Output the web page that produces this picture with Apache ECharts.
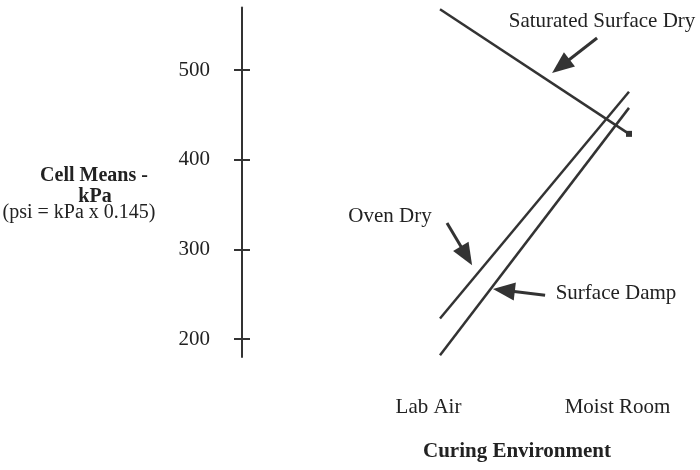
<!DOCTYPE html>
<html>
<head>
<meta charset="utf-8">
<script src="https://cdn.jsdelivr.net/npm/echarts@6/dist/echarts.min.js"></script>
<style>
  html, body { margin: 0; padding: 0; background: #fff; }
  #chart { width: 700px; height: 470px; }
</style>
</head>
<body>
<div id="chart"></div>
<script>
// curing environments (x = 0, 1)
var categories = ['Lab Air', 'Moist Room']
// cell means, kPa
var saturatedSurfaceDry = [568, 429]
var ovenDry = [223, 476]
var surfaceDamp = [182, 458]
var yTicks = [200, 300, 400, 500]
// annotation arrows: [tailX, tailY, headX, headY] in data units
var arrows = [
  [0.831, 536, 0.639, 504.5],
  [0.037, 329.5, 0.140, 293],
  [0.556, 249, 0.338, 254.5]
]

var font = 'Liberation Serif'
var ink = '#333'

function pairs(vals) {
  return vals.map(function (v, i) { return [i, v] })
}

var chart = echarts.init(document.getElementById('chart'))

var lineStyle = { color: ink, width: 2.5 }
var arrowData = arrows.map(function (a) {
  return [
    { coord: [a[0], a[1]], symbol: 'none' },
    { coord: [a[2], a[3]], symbol: 'triangle', symbolSize: [18, 22] }
  ]
})

chart.setOption({
  animation: false,
  grid: { left: 440, right: 71, top: 7.5, bottom: 113 },
  xAxis: {
    type: 'value',
    min: 0,
    max: 1,
    axisLine: { show: false },
    axisTick: { show: false },
    splitLine: { show: false },
    axisLabel: {
      customValues: [0, 1],
      formatter: function (v) { return categories[v] },
      fontFamily: font,
      fontSize: 21,
      color: '#222',
      margin: 40,
      padding: [0, 23, 0, 0]
    }
  },
  yAxis: [{
    type: 'value',
    min: 180,
    max: 570,
    offset: 198,
    position: 'left',
    splitLine: { show: false },
    axisLine: { show: true, onZero: false, lineStyle: { color: ink, width: 2 } },
    axisTick: { show: true, customValues: yTicks, length: 8, lineStyle: { color: ink, width: 2 } },
    axisLabel: { customValues: yTicks, fontFamily: font, fontSize: 21, color: '#222', margin: 32 }
  }, {
    type: 'value',
    min: 180,
    max: 570,
    offset: 198,
    position: 'left',
    splitLine: { show: false },
    axisLine: { show: false, onZero: false },
    axisTick: { show: true, inside: true, customValues: yTicks, length: 8, lineStyle: { color: ink, width: 2 } },
    axisLabel: { show: false }
  }],
  series: [{
    name: 'Saturated Surface Dry',
    type: 'line',
    data: pairs(saturatedSurfaceDry),
    symbol: 'rect',
    symbolSize: function (v, p) { return p.dataIndex === 1 ? 6 : 0 },
    itemStyle: { color: ink },
    lineStyle: lineStyle,
    markLine: {
      silent: true,
      label: { show: false },
      lineStyle: { color: ink, width: 3, type: 'solid' },
      itemStyle: { color: ink },
      data: arrowData
    }
  }, {
    name: 'Oven Dry',
    type: 'line',
    data: pairs(ovenDry),
    showSymbol: false,
    lineStyle: lineStyle
  }, {
    name: 'Surface Damp',
    type: 'line',
    data: pairs(surfaceDamp),
    showSymbol: false,
    lineStyle: lineStyle
  }],
  graphic: [
    { type: 'text', x: 94, y: 176, style: { text: 'Cell Means -', font: 'bold 20px ' + font, fill: '#222', align: 'center', verticalAlign: 'middle' } },
    { type: 'text', x: 95, y: 197, style: { text: 'kPa', font: 'bold 20px ' + font, fill: '#222', align: 'center', verticalAlign: 'middle' } },
    { type: 'text', x: 79, y: 213, style: { text: '(psi = kPa x 0.145)', font: '20px ' + font, fill: '#222', align: 'center', verticalAlign: 'middle' } },
    { type: 'text', x: 602, y: 21, style: { text: 'Saturated Surface Dry', font: '21px ' + font, fill: '#222', align: 'center', verticalAlign: 'middle' } },
    { type: 'text', x: 390, y: 216, style: { text: 'Oven Dry', font: '21px ' + font, fill: '#222', align: 'center', verticalAlign: 'middle' } },
    { type: 'text', x: 616, y: 293, style: { text: 'Surface Damp', font: '21px ' + font, fill: '#222', align: 'center', verticalAlign: 'middle' } },
    { type: 'text', x: 517, y: 452, style: { text: 'Curing Environment', font: 'bold 21px ' + font, fill: '#222', align: 'center', verticalAlign: 'middle' } }
  ]
})
</script>
</body>
</html>
